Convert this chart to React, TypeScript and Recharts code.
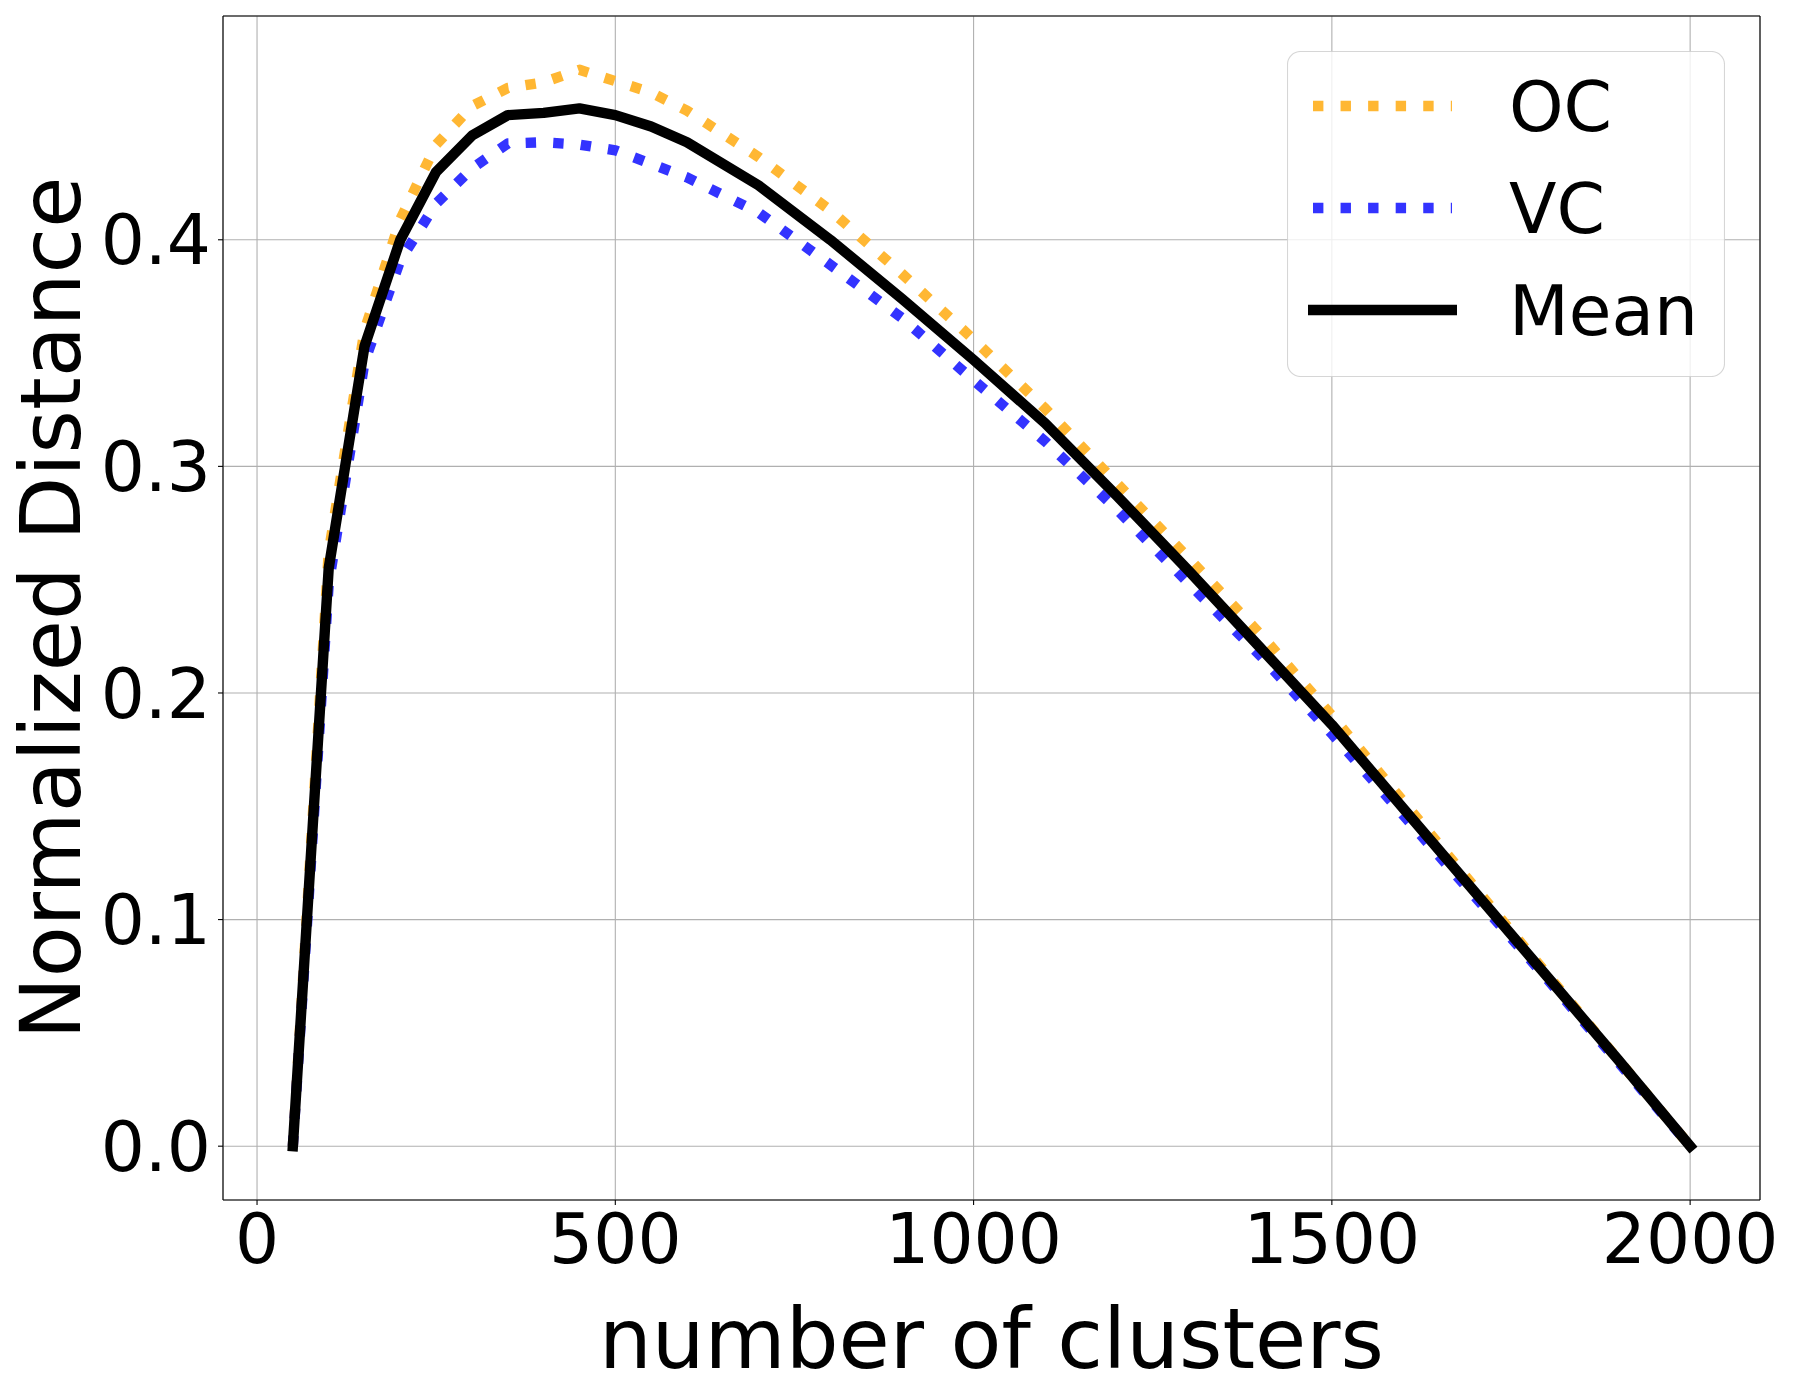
import React from 'react';
import {
  CartesianGrid,
  Label,
  Legend,
  Line,
  LineChart,
  ReferenceLine,
  XAxis,
  YAxis,
} from 'recharts';

// number of clusters
const clusters = [
  50, 100, 150, 200, 250, 300, 350, 400, 450, 500, 550, 600, 700, 800, 900,
  1000, 1100, 1200, 1300, 1400, 1500, 1600, 1700, 1800, 1900, 2000,
];

const ocValues = [
  0, 0.262, 0.36, 0.409, 0.442, 0.459, 0.467, 0.4695, 0.475, 0.47, 0.465,
  0.457, 0.4365, 0.413, 0.385, 0.356, 0.3255, 0.2925, 0.2595, 0.226, 0.19,
  0.152, 0.114, 0.076, 0.038, 0,
];

const vcValues = [
  0, 0.248, 0.346, 0.391, 0.416, 0.4315, 0.4425, 0.443, 0.442, 0.4395, 0.4335,
  0.4275, 0.412, 0.389, 0.3655, 0.338, 0.311, 0.281, 0.2485, 0.2165, 0.182,
  0.146, 0.11, 0.074, 0.037, 0,
];

const meanValues = [
  0, 0.255, 0.353, 0.4, 0.43, 0.446, 0.455, 0.456, 0.458, 0.455, 0.45, 0.443,
  0.424, 0.4, 0.374, 0.347, 0.319, 0.287, 0.254, 0.22, 0.186, 0.149, 0.112,
  0.075, 0.038, 0,
];

const seriesNames = ['OC', 'VC', 'Mean'];
const xTicks = [0, 500, 1000, 1500, 2000];
const yTicks = [0, 0.1, 0.2, 0.3, 0.4];

const X_DOMAIN: [number, number] = [-47.5, 2097.5];
const Y_DOMAIN: [number, number] = [-0.02375, 0.49875];

const FONT = 'DejaVu Sans';
const TICK_FS = 69.4;
const TITLE_FS = 83.3;
const ORANGE = '#ffb733';
const BLUE = '#3333ff';
const LW = 10.4;
const DOTS = `${LW} ${LW * 1.65}`;

const data = clusters.map((k, i) => ({
  k,
  oc: ocValues[i],
  vc: vcValues[i],
  mean: meanValues[i],
}));

const tickStyle = { fill: '#000', fontSize: TICK_FS, fontFamily: FONT };

const LegendBox = ({ payload }: any) => {
  const rows = [...(payload || [])].sort(
    (a: any, b: any) => seriesNames.indexOf(a.value) - seriesNames.indexOf(b.value)
  );
  return (
    <svg width={438} height={326} style={{ display: 'block' }}>
      <rect
        x={0.5}
        y={0.5}
        width={437}
        height={325}
        rx={13}
        fill="rgba(255,255,255,0.8)"
        stroke="rgba(204,204,204,0.8)"
        strokeWidth={1.1}
      />
      {rows.map((item: any, i: number) => {
        const cy = 55 + i * 102;
        const dashed = item.payload && item.payload.strokeDasharray;
        return (
          <g key={item.value}>
            <line
              x1={dashed ? 26 : 21}
              x2={dashed ? 165 : 170}
              y1={cy}
              y2={cy}
              stroke={item.color}
              strokeWidth={LW}
              strokeDasharray={dashed || undefined}
            />
            <text
              x={222}
              y={cy + 25}
              fontSize={TICK_FS}
              fontFamily={FONT}
              fill="#000"
            >
              {item.value}
            </text>
          </g>
        );
      })}
    </svg>
  );
};

const XTitle = ({ viewBox }: any) => (
  <text
    x={viewBox.x + viewBox.width / 2}
    y={viewBox.y + 168}
    textAnchor="middle"
    fontSize={TITLE_FS}
    fontFamily={FONT}
    fill="#000"
  >
    number of clusters
  </text>
);

const YTitle = ({ viewBox }: any) => {
  const cx = viewBox.x + 80;
  const cy = viewBox.y + viewBox.height / 2;
  return (
    <text
      x={cx}
      y={cy}
      transform={`rotate(-90, ${cx}, ${cy})`}
      textAnchor="middle"
      fontSize={TITLE_FS}
      fontFamily={FONT}
      fill="#000"
    >
      Normalized Distance
    </text>
  );
};

export default function App() {
  return (
    <div style={{ position: 'absolute', left: 0, top: 0, background: '#fff' }}>
      <LineChart
        width={1800}
        height={1400}
        data={data}
        margin={{ top: 16, right: 40, left: 0, bottom: 0 }}
      >
        <CartesianGrid stroke="#b0b0b0" strokeWidth={1.1} />
        <XAxis
          dataKey="k"
          type="number"
          domain={X_DOMAIN}
          allowDataOverflow
          ticks={xTicks}
          height={200}
          tick={tickStyle}
          tickSize={5}
          tickMargin={9}
          axisLine={{ stroke: '#000', strokeWidth: 1.1 }}
          tickLine={{ stroke: '#000', strokeWidth: 1.1 }}
        >
          <Label content={XTitle} />
        </XAxis>
        <YAxis
          type="number"
          domain={Y_DOMAIN}
          allowDataOverflow
          ticks={yTicks}
          width={223}
          tick={tickStyle}
          tickSize={5}
          tickMargin={7}
          tickFormatter={(v: number) => v.toFixed(1)}
          axisLine={{ stroke: '#000', strokeWidth: 1.1 }}
          tickLine={{ stroke: '#000', strokeWidth: 1.1 }}
        >
          <Label content={YTitle} />
        </YAxis>
        <ReferenceLine x={X_DOMAIN[1]} stroke="#000" strokeWidth={1.1} />
        <ReferenceLine y={Y_DOMAIN[1]} stroke="#000" strokeWidth={1.1} />
        <Line
          type="linear"
          dataKey="oc"
          name="OC"
          stroke={ORANGE}
          strokeWidth={LW}
          strokeDasharray={DOTS}
          strokeLinejoin="round"
          dot={false}
          activeDot={false}
          isAnimationActive={false}
        />
        <Line
          type="linear"
          dataKey="vc"
          name="VC"
          stroke={BLUE}
          strokeWidth={LW}
          strokeDasharray={DOTS}
          strokeLinejoin="round"
          dot={false}
          activeDot={false}
          isAnimationActive={false}
        />
        <Line
          type="linear"
          dataKey="mean"
          name="Mean"
          stroke="#000"
          strokeWidth={LW}
          strokeLinejoin="round"
          strokeLinecap="square"
          dot={false}
          activeDot={false}
          isAnimationActive={false}
        />
        <Legend
          layout="horizontal"
          align="center"
          verticalAlign="middle"
          width={438}
          height={326}
          wrapperStyle={{ left: 1287, top: 51, width: 438, height: 326 }}
          content={LegendBox}
        />
      </LineChart>
    </div>
  );
}
